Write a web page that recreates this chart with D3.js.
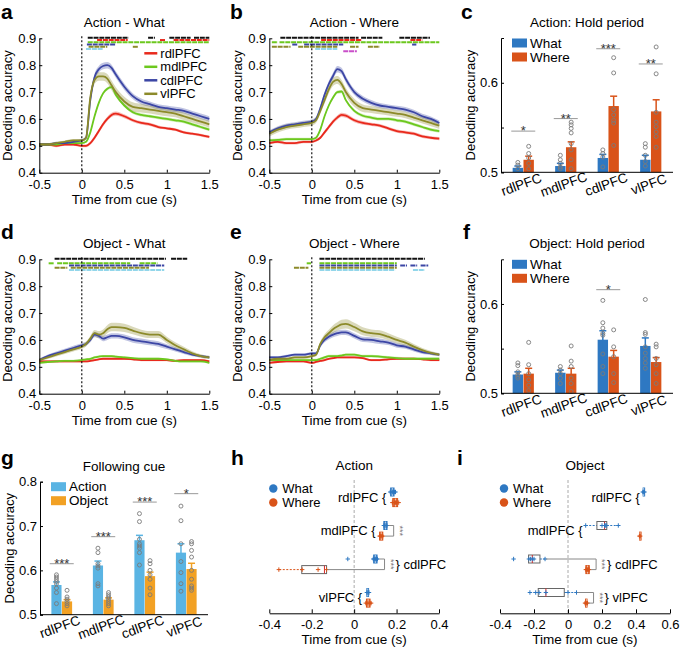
<!DOCTYPE html>
<html>
<head>
<meta charset="utf-8">
<script src="https://cdn.jsdelivr.net/npm/d3@7"></script>
<style>
  body { margin: 0; background: #fff; }
</style>
</head>
<body>
<svg id="fig" width="680" height="647"></svg>
<script>
'use strict'

// ---------- shared categories / ticks ----------
var regions = ['rdlPFC', 'mdlPFC', 'cdlPFC', 'vlPFC']
var regionColors = ['#e8291c', '#6cc81e', '#3c46a5', '#8c8a2a']
var timeTicks = [-0.5, 0, 0.5, 1, 1.5]
var accTicks = [0.4, 0.5, 0.6, 0.7, 0.8, 0.9]
var holdTicks = [0.5, 0.55, 0.6]
var cueTicks = [0.5, 0.6, 0.7, 0.8]
var latTicksH = [-0.4, -0.2, 0, 0.2, 0.4]
var latTicksI = [-0.4, -0.2, 0, 0.2, 0.4, 0.6]

// time bins (s from cue) of the decoding curves
var T = [-0.5, -0.4, -0.3, -0.2, -0.1, 0, 0.05, 0.1, 0.15, 0.2, 0.25, 0.3, 0.35, 0.4, 0.5, 0.6, 0.7, 0.8, 0.9, 1.0, 1.1, 1.2, 1.3, 1.4, 1.5]

// ---------- a: Action - What ----------
var aRd = [0.505,0.505,0.500,0.505,0.505,0.500,0.500,0.510,0.530,0.555,0.580,0.600,0.615,0.620,0.610,0.595,0.585,0.580,0.570,0.565,0.560,0.550,0.545,0.540,0.533]
var aMd = [0.505,0.505,0.505,0.510,0.510,0.510,0.515,0.550,0.610,0.660,0.695,0.712,0.718,0.690,0.650,0.625,0.615,0.610,0.605,0.600,0.595,0.590,0.580,0.570,0.560]
var aCd = [0.505,0.505,0.510,0.510,0.515,0.520,0.530,0.670,0.755,0.785,0.797,0.800,0.790,0.765,0.720,0.685,0.665,0.655,0.645,0.640,0.635,0.630,0.620,0.610,0.600]
var aVl = [0.505,0.505,0.510,0.515,0.520,0.520,0.530,0.680,0.745,0.758,0.758,0.750,0.725,0.700,0.665,0.645,0.640,0.635,0.630,0.625,0.620,0.610,0.600,0.590,0.580]
var aRdSe = [.005,.005,.005,.005,.005,.005,.005,.006,.007,.008,.008,.008,.008,.008,.007,.006,.006,.006,.006,.005,.005,.005,.005,.005,.005]
var aMdSe = [.004,.004,.004,.004,.004,.004,.004,.005,.006,.006,.006,.006,.006,.006,.006,.006,.006,.006,.006,.006,.006,.006,.006,.006,.006]
var aCdSe = [.005,.005,.005,.005,.005,.005,.006,.010,.012,.012,.012,.012,.012,.012,.012,.011,.011,.010,.010,.010,.010,.010,.010,.010,.010]
var aVlSe = [.005,.005,.005,.005,.005,.005,.006,.012,.015,.016,.016,.017,.018,.018,.018,.017,.016,.015,.015,.015,.014,.014,.013,.013,.013]

// ---------- b: Action - Where ----------
var bRd = [0.510,0.515,0.510,0.510,0.515,0.515,0.520,0.530,0.550,0.570,0.590,0.605,0.615,0.612,0.595,0.585,0.580,0.575,0.565,0.555,0.550,0.545,0.535,0.530,0.527]
var bMd = [0.520,0.522,0.525,0.525,0.525,0.525,0.530,0.560,0.610,0.650,0.680,0.700,0.702,0.670,0.630,0.612,0.605,0.600,0.600,0.595,0.590,0.580,0.570,0.560,0.555]
var bCd = [0.550,0.565,0.575,0.580,0.585,0.590,0.600,0.640,0.690,0.730,0.760,0.785,0.778,0.748,0.700,0.675,0.660,0.650,0.645,0.640,0.635,0.625,0.610,0.600,0.585]
var bVl = [0.545,0.560,0.570,0.575,0.580,0.585,0.595,0.630,0.670,0.710,0.738,0.745,0.730,0.700,0.660,0.640,0.635,0.630,0.625,0.620,0.615,0.605,0.595,0.585,0.575]
var bRdSe = [.005,.005,.005,.005,.005,.005,.005,.006,.007,.007,.008,.008,.008,.008,.007,.007,.006,.006,.006,.006,.006,.006,.006,.006,.006]
var bMdSe = [.005,.005,.005,.005,.005,.005,.005,.005,.006,.006,.006,.006,.006,.006,.006,.006,.006,.006,.006,.006,.006,.006,.006,.006,.006]
var bCdSe = [.008,.008,.008,.008,.008,.008,.008,.009,.010,.011,.012,.012,.012,.012,.011,.010,.010,.009,.009,.009,.009,.009,.009,.009,.009]
var bVlSe = [.010,.010,.010,.010,.010,.010,.010,.011,.013,.014,.015,.015,.015,.015,.015,.014,.013,.013,.012,.012,.012,.012,.012,.012,.012]

// ---------- d: Object - What ----------
var dRd = [0.520,0.520,0.520,0.520,0.520,0.520,0.520,0.522,0.525,0.528,0.530,0.530,0.530,0.530,0.530,0.528,0.525,0.525,0.525,0.525,0.522,0.525,0.525,0.525,0.520]
var dMd = [0.515,0.518,0.520,0.522,0.522,0.525,0.528,0.530,0.535,0.538,0.540,0.540,0.540,0.538,0.535,0.532,0.530,0.530,0.530,0.528,0.522,0.520,0.520,0.520,0.515]
var dCd = [0.525,0.540,0.550,0.560,0.570,0.580,0.585,0.600,0.620,0.615,0.605,0.610,0.615,0.615,0.610,0.600,0.595,0.590,0.585,0.575,0.565,0.555,0.545,0.540,0.535]
var dVl = [0.525,0.535,0.545,0.555,0.565,0.575,0.585,0.605,0.625,0.620,0.625,0.640,0.648,0.648,0.645,0.635,0.625,0.620,0.620,0.600,0.580,0.565,0.550,0.540,0.535]
var dRdSe = [.004,.004,.004,.004,.004,.004,.004,.004,.004,.004,.004,.004,.004,.004,.004,.004,.004,.004,.004,.004,.004,.004,.004,.004,.004]
var dMdSe = [.004,.004,.004,.004,.004,.004,.004,.004,.004,.004,.004,.004,.004,.004,.004,.004,.004,.004,.004,.004,.004,.004,.004,.004,.004]
var dCdSe = [.006,.006,.007,.007,.008,.008,.008,.009,.010,.010,.010,.010,.010,.010,.010,.010,.010,.010,.010,.009,.008,.007,.006,.005,.005]
var dVlSe = [.006,.006,.007,.007,.008,.008,.009,.010,.012,.013,.014,.015,.016,.016,.015,.014,.013,.013,.013,.012,.011,.010,.008,.007,.006]

// ---------- e: Object - Where ----------
var eRd = [0.515,0.518,0.520,0.520,0.520,0.515,0.518,0.522,0.525,0.530,0.532,0.535,0.535,0.535,0.535,0.532,0.525,0.525,0.528,0.530,0.530,0.530,0.528,0.525,0.525]
var eMd = [0.525,0.525,0.525,0.525,0.525,0.525,0.525,0.530,0.535,0.540,0.540,0.540,0.542,0.545,0.545,0.540,0.540,0.538,0.535,0.532,0.530,0.530,0.530,0.530,0.530]
var eCd = [0.535,0.535,0.540,0.545,0.545,0.550,0.550,0.580,0.600,0.612,0.620,0.625,0.628,0.628,0.615,0.602,0.600,0.595,0.590,0.580,0.575,0.565,0.555,0.550,0.545]
var eVl = [0.525,0.530,0.530,0.535,0.535,0.540,0.545,0.585,0.610,0.625,0.640,0.650,0.658,0.660,0.648,0.632,0.625,0.622,0.612,0.600,0.590,0.575,0.562,0.552,0.545]
var eRdSe = [.004,.004,.004,.004,.004,.004,.004,.004,.004,.004,.004,.004,.004,.004,.004,.004,.004,.004,.004,.004,.004,.004,.004,.004,.004]
var eMdSe = [.005,.005,.005,.005,.005,.005,.005,.005,.005,.005,.005,.005,.005,.005,.005,.005,.005,.005,.005,.005,.005,.005,.005,.005,.005]
var eCdSe = [.005,.005,.005,.005,.005,.005,.006,.008,.009,.010,.010,.010,.010,.010,.010,.010,.010,.010,.009,.009,.008,.008,.007,.006,.005]
var eVlSe = [.005,.005,.005,.005,.005,.005,.006,.009,.011,.013,.015,.016,.017,.017,.016,.015,.014,.014,.013,.012,.011,.010,.008,.007,.006]

// significance rows above the curves: [row, start, end]
var sigRows = ['k', 'r', 'g', 'b', 'o', 'c', 'm']
var sigColors = ['#111111', '#e8291c', '#6cc81e', '#3c46a5', '#8c8a2a', '#92d6ea', '#c94fc9']
var aSig = [['k',0.07,0.55],['k',0.78,0.86],['k',1.03,1.28],['k',1.32,1.5],
  ['r',0.18,0.54],['r',0.92,0.98],['r',1.08,1.5],
  ['g',0.07,1.5],['b',0.06,0.40],['o',0.08,0.30],['o',0.60,0.66],['c',0.05,0.25]]
var bSig = [['k',-0.37,0.55],['k',0.58,0.83],['k',1.03,1.39],
  ['r',0.11,0.59],['r',1.16,1.30],
  ['g',-0.47,-0.40],['g',-0.38,1.5],
  ['b',-0.23,-0.17],['b',-0.09,0.37],['b',1.18,1.23],
  ['o',-0.47,-0.25],['o',-0.16,0.30],['o',0.45,0.55],['o',0.66,0.80],
  ['c',0.04,0.30],['m',0.37,0.53]]
var dSig = [['k',-0.32,0.99],['k',1.05,1.24],
  ['g',-0.39,-0.33],['g',-0.29,0.57],['g',0.68,0.89],
  ['b',-0.15,0.97],['o',-0.32,-0.17],['o',-0.13,0.79],['c',-0.15,0.97]]
var eSig = [['k',0.09,1.33],
  ['g',-0.06,-0.01],['g',0.09,1.0],
  ['b',0.09,1.0],['b',1.04,1.12],['b',1.16,1.24],['b',1.28,1.37],
  ['o',-0.21,-0.04],['o',0.09,1.0],
  ['c',0.09,0.98],['c',1.19,1.33]]

// ---------- c / f: hold period bars ----------
var holdConds = ['What', 'Where']
var holdColors = ['#2e78c2', '#d95319']
var cWhat = [0.505, 0.507, 0.516, 0.514]
var cWhatSe = [0.002, 0.003, 0.004, 0.005]
var cWhere = [0.514, 0.528, 0.574, 0.568]
var cWhereSe = [0.004, 0.006, 0.011, 0.013]
var cWhatDots = [[0.511,0.508,0.504],[0.519,0.514,0.510,0.506,0.504],[0.525,0.521,0.517,0.506],[0.532,0.528,0.519,0.512,0.507]]
var cWhereDots = [[0.529,0.521,0.516,0.510,0.504],[0.556,0.553,0.549,0.544,0.532,0.525,0.514,0.504],
  [0.628,0.611,0.570,0.564,0.558,0.555,0.530],[0.640,0.610,0.567,0.556,0.551,0.545,0.540,0.528]]
var cStars = ['*', '**', '***', '**']
var cStarAt = [0.546, 0.560, 0.638, 0.621]

var fWhat = [0.521, 0.523, 0.560, 0.553]
var fWhatSe = [0.003, 0.003, 0.010, 0.009]
var fWhere = [0.522, 0.522, 0.541, 0.535]
var fWhereSe = [0.006, 0.006, 0.007, 0.005]
var fWhatDots = [[0.534,0.531,0.524,0.521,0.519,0.517],[0.530,0.526,0.522,0.517,0.511],
  [0.604,0.579,0.573,0.567,0.565,0.544,0.530,0.522],[0.605,0.568,0.566,0.552,0.545,0.539,0.534,0.528]]
var fWhereDots = [[0.557,0.532,0.522,0.515,0.509,0.503],[0.553,0.536,0.530,0.517,0.511,0.502],
  [0.571,0.552,0.541,0.522,0.512],[0.555,0.552,0.539,0.532,0.522,0.511]]
var fStars = ['', '', '*', '']
var fStarAt = [0, 0, 0.616, 0]

// ---------- g: following cue ----------
var cueConds = ['Action', 'Object']
var cueColors = ['#5ab4e3', '#f2a124']
var gAction = [0.567, 0.611, 0.668, 0.640]
var gActionSe = [0.007, 0.010, 0.011, 0.020]
var gObject = [0.530, 0.534, 0.587, 0.603]
var gObjectSe = [0.004, 0.004, 0.009, 0.013]
var gActionDots = [[0.59,0.585,0.58,0.575,0.57,0.56,0.55,0.525],[0.65,0.64,0.615,0.61,0.605,0.57,0.565],
  [0.728,0.71,0.67,0.66,0.655,0.65,0.64,0.612],[0.745,0.712,0.66,0.62,0.595,0.57,0.553]]
var gObjectDots = [[0.555,0.54,0.535,0.53,0.525,0.52],[0.55,0.545,0.54,0.535,0.53,0.525,0.52],
  [0.622,0.615,0.6,0.59,0.58,0.56,0.545],[0.665,0.66,0.645,0.63,0.6,0.58,0.565,0.56,0.555]]
var gStars = ['***', '***', '***', '*']
var gStarAt = [0.615, 0.676, 0.754, 0.773]

// ---------- h / i: latency boxes [low whisker, q1, median, q3, high whisker] ----------
var hWhat = [[0.166,0.172,0.180,0.188,0.195],[0.135,0.140,0.148,0.155,0.158],[0.086,0.092,0.100,0.108,0.115],[0.057,0.060,0.064,0.068,0.072]]
var hWhere = [[0.175,0.182,0.195,0.205,0.213],[0.115,0.120,0.128,0.135,0.140],[-0.353,-0.247,-0.140,-0.130,-0.130],[0.052,0.058,0.066,0.075,0.083]]
var hWhatPts = [[0.17,0.18,0.185,0.19,0.195],[0.14,0.145,0.15,0.155],[-0.03,0.09,0.095,0.10,0.105,0.11],[0.06,0.065,0.07]]
var hWherePts = [[0.18,0.19,0.195,0.2,0.21],[0.12,0.125,0.13,0.135],[-0.355,-0.245,-0.17,-0.13],[0.055,0.065,0.075,0.08]]
var hStars = ['', '***', '***', '']
var hLabelSide = ['left', 'left', 'right', 'left']

var iWhat = [[0.440,0.442,0.445,0.448,0.450],[0.104,0.170,0.215,0.228,0.296],[-0.235,-0.232,-0.210,-0.165,-0.135],[-0.224,-0.175,-0.130,-0.022,0.050]]
var iWhere = [null,[0.420,0.421,0.424,0.427,0.428],[0.100,0.105,0.115,0.125,0.130],[0.100,0.103,0.108,0.112,0.115]]
var iWhatPts = [[0.44,0.445,0.45],[0.104,0.2,0.215,0.22,0.228,0.296],[-0.32,-0.23,-0.22,-0.21,-0.2,-0.135],[-0.224,-0.19,-0.17,-0.13,0.0,0.05]]
var iWherePts = [[],[0.42,0.425],[0.105,0.11,0.115,0.12,0.125],[0.1,0.105,0.11,0.115]]
var iStars = ['', '', '***', '***']
var iLabelSide = ['left', 'left', 'right', 'right']

// ====================================================================
var FONT = '"Liberation Sans", Arial, Helvetica, sans-serif'
var svg = d3.select('#fig').attr('font-family', FONT)

function styleAxis(sel) {
  sel.attr('font-family', FONT).attr('font-size', 13)
  sel.selectAll('path.domain').attr('stroke', '#000').attr('stroke-width', 1)
  sel.selectAll('.tick line').attr('stroke', '#000')
  sel.selectAll('.tick text').attr('fill', '#000')
}

function letter(ch, x, y) {
  svg.append('text').attr('x', x).attr('y', y).attr('font-size', 21)
    .attr('font-weight', 'bold').text(ch)
}

function yLabel(g, x, y) {
  g.append('text').attr('transform', 'translate(' + x + ',' + y + ') rotate(-90)')
    .attr('text-anchor', 'middle').attr('dy', '0.35em').attr('font-size', 13)
    .text('Decoding accuracy')
}

function timePanel(p) {
  var g = svg.append('g')
  var x = d3.scaleLinear().domain([-0.5, 1.5]).range([p.left, p.left + 170])
  var y = d3.scaleLinear().domain([0.4, 0.9]).range([p.top + 134.4, p.top])
  var rowY = d3.scalePoint().domain(sigRows).range([y(0.9) - 0.5, y(0.9) + 13])

  p.series.forEach(function (s, k) {
    var band = d3.area()
      .x(function (d, i) { return x(T[i]) })
      .y0(function (d, i) { return y(d - s.se[i]) })
      .y1(function (d, i) { return y(d + s.se[i]) })
      .curve(d3.curveMonotoneX)
    g.append('path').datum(s.mean).attr('d', band)
      .attr('fill', regionColors[k]).attr('fill-opacity', 0.32)
  })
  p.series.forEach(function (s, k) {
    var line = d3.line()
      .x(function (d, i) { return x(T[i]) })
      .y(function (d) { return y(d) })
      .curve(d3.curveMonotoneX)
    g.append('path').datum(s.mean).attr('d', line).attr('fill', 'none')
      .attr('stroke', regionColors[k]).attr('stroke-width', 1.8)
  })

  g.selectAll('line.sig').data(p.sig).join('line').attr('class', 'sig')
    .attr('x1', function (d) { return x(d[1]) })
    .attr('x2', function (d) { return x(d[2]) })
    .attr('y1', function (d) { return rowY(d[0]) })
    .attr('y2', function (d) { return rowY(d[0]) })
    .attr('stroke', function (d) { return sigColors[sigRows.indexOf(d[0])] })
    .attr('stroke-width', 2).attr('stroke-dasharray', '5,0.8')

  g.append('line').attr('x1', x(0)).attr('x2', x(0))
    .attr('y1', y(0.9) - 2).attr('y2', y(0.4))
    .attr('stroke', '#000').attr('stroke-width', 1.1).attr('stroke-dasharray', '2,2')

  g.append('g').attr('transform', 'translate(0,' + y(0.4) + ')')
    .call(d3.axisBottom(x).tickValues(timeTicks).tickFormat(function (d) { return String(d) })
      .tickSize(-3).tickSizeOuter(0).tickPadding(7))
    .call(styleAxis)
  g.append('g').attr('transform', 'translate(' + p.left + ',0)')
    .call(d3.axisLeft(y).tickValues(accTicks).tickFormat(d3.format('.1f'))
      .tickSize(-3).tickSizeOuter(0).tickPadding(3))
    .call(styleAxis)

  g.append('text').attr('x', p.left + 85).attr('y', p.top - 11)
    .attr('text-anchor', 'middle').attr('font-size', 13.5).text(p.title)
  g.append('text').attr('x', p.left + 85).attr('y', y(0.4) + 31)
    .attr('text-anchor', 'middle').attr('font-size', 13.5).text('Time from cue (s)')
  yLabel(g, p.left - 32, (y(0.4) + y(0.9)) / 2)

  if (p.legend) {
    regions.forEach(function (r, k) {
      var ly = p.top + 15 + k * 13.5
      g.append('line').attr('x1', p.left + 105).attr('x2', p.left + 118)
        .attr('y1', ly).attr('y2', ly).attr('stroke', regionColors[k]).attr('stroke-width', 2.5)
      g.append('text').attr('x', p.left + 121).attr('y', ly).attr('dy', '0.35em')
        .attr('font-size', 13).text(r)
    })
  }
}

function barPanel(p) {
  var g = svg.append('g')
  var x0 = d3.scaleBand().domain(regions).range([p.left, p.right])
    .paddingInner(0.48).paddingOuter(0.264)
  var x1 = d3.scaleBand().domain(p.conds).range([0, x0.bandwidth()]).padding(0.04)
  var y = d3.scaleLinear().domain(p.domain).range([p.bottom, p.top])

  regions.forEach(function (r, k) {
    p.conds.forEach(function (c, j) {
      var v = p.values[j][k], se = p.errors[j][k]
      var bx = x0(r) + x1(c), bw = x1.bandwidth(), cx = bx + bw / 2
      g.append('rect').attr('x', bx).attr('width', bw)
        .attr('y', y(v)).attr('height', y(p.domain[0]) - y(v)).attr('fill', p.colors[j])
      g.append('line').attr('x1', cx).attr('x2', cx).attr('y1', y(v - se)).attr('y2', y(v + se))
        .attr('stroke', p.colors[j]).attr('stroke-width', 1.5)
      g.append('line').attr('x1', cx - 3.5).attr('x2', cx + 3.5).attr('y1', y(v + se)).attr('y2', y(v + se))
        .attr('stroke', p.colors[j]).attr('stroke-width', 1.5)
      g.selectAll(null).data(p.dots[j][k]).join('circle')
        .attr('cx', cx).attr('cy', function (d) { return y(d) }).attr('r', 2)
        .attr('fill', 'none').attr('stroke', '#7a7a7a').attr('stroke-width', 0.9)
    })
    if (p.stars[k]) {
      var gc = x0(r) + x0.bandwidth() / 2, sy = y(p.starAt[k])
      g.append('line').attr('x1', gc - 12).attr('x2', gc + 12).attr('y1', sy).attr('y2', sy)
        .attr('stroke', '#999').attr('stroke-width', 1)
      g.append('text').attr('x', gc).attr('y', sy + 4).attr('text-anchor', 'middle')
        .attr('font-size', 13).attr('fill', '#333').text(p.stars[k])
    }
    g.append('text')
      .attr('transform', 'translate(' + (x0(r) + x0.bandwidth() / 2 - 2) + ',' + (p.bottom + 12) + ') rotate(-20)')
      .attr('text-anchor', 'middle').attr('dy', '0.35em').attr('font-size', 13.5).text(r)
  })

  g.append('line').attr('x1', p.left).attr('x2', p.right).attr('y1', p.bottom).attr('y2', p.bottom)
    .attr('stroke', '#000')
  g.append('g').attr('transform', 'translate(' + p.left + ',0)')
    .call(d3.axisLeft(y).tickValues(p.ticks)
      .tickFormat(function (d) { return p.labelled.indexOf(d) >= 0 ? d3.format('.1f')(d) : '' })
      .tickSize(-3).tickSizeOuter(-3).tickPadding(3))
    .call(styleAxis)

  g.append('text').attr('x', (p.left + p.right) / 2).attr('y', p.top - 11)
    .attr('text-anchor', 'middle').attr('font-size', 13.5).text(p.title)
  yLabel(g, p.left - 31, (p.top + p.bottom) / 2)

  p.conds.forEach(function (c, j) {
    var ly = p.top + 5 + j * 14
    g.append('rect').attr('x', p.left + 11).attr('y', ly - 4.5).attr('width', 15).attr('height', 9)
      .attr('fill', p.colors[j])
    g.append('text').attr('x', p.left + 29).attr('y', ly).attr('dy', '0.35em')
      .attr('font-size', 13.5).text(c)
  })
}

var whatColor = '#2e78c2', whereColor = '#d95319'

function boxPanel(p) {
  var g = svg.append('g')
  var x = d3.scaleLinear().domain(p.domain).range([p.left, p.right])
  var yr = d3.scalePoint().domain(regions).range([497.3, 597.8])
  var axisY = 613.3
  var conds = [
    { box: p.what, pts: p.whatPts, color: whatColor, dy: -5.3 },
    { box: p.where, pts: p.wherePts, color: whereColor, dy: 5.3 }
  ]

  g.append('line').attr('x1', x(0)).attr('x2', x(0)).attr('y1', 480).attr('y2', axisY)
    .attr('stroke', '#aaa').attr('stroke-dasharray', '3,2')

  regions.forEach(function (r, k) {
    conds.forEach(function (c) {
      var b = c.box[k]
      if (!b) return
      var cy = yr(r) + c.dy
      g.append('line').attr('x1', x(b[0])).attr('x2', x(b[1])).attr('y1', cy).attr('y2', cy)
        .attr('stroke', c.color).attr('stroke-dasharray', '2,1.5')
      g.append('line').attr('x1', x(b[3])).attr('x2', x(b[4])).attr('y1', cy).attr('y2', cy)
        .attr('stroke', c.color).attr('stroke-dasharray', '2,1.5')
      var tiny = x(b[3]) - x(b[1]) < 7
      g.append('rect').attr('x', x(b[1])).attr('width', Math.max(1.5, x(b[3]) - x(b[1])))
        .attr('y', cy - 4).attr('height', 8)
        .attr('fill', tiny ? c.color : 'none').attr('fill-opacity', 0.85)
        .attr('stroke', tiny ? c.color : '#666').attr('stroke-width', 1)
      g.append('line').attr('x1', x(b[2])).attr('x2', x(b[2])).attr('y1', cy - 4).attr('y2', cy + 4)
        .attr('stroke', tiny ? '#fff' : '#d62728').attr('stroke-width', tiny ? 0.6 : 1)
      g.selectAll(null).data(c.pts[k]).join('path')
        .attr('transform', function (d) { return 'translate(' + x(d) + ',' + cy + ')' })
        .attr('d', 'M-2.2,0H2.2M0,-2.2V2.2').attr('stroke', c.color).attr('stroke-width', 1)
    })

    var rows = conds.filter(function (c) { return c.box[k] })
    var lo = d3.min(rows, function (c) { return c.box[k][0] })
    var hi = d3.max(rows, function (c) { return c.box[k][4] })
    var bx = x(hi) + 6
    if (p.stars[k]) {
      var yA = yr(r) + conds[0].dy, yB = yr(r) + conds[1].dy
      g.append('path')
        .attr('d', 'M' + (x(conds[0].box[k][4]) + 1) + ',' + yA + 'H' + bx + 'V' + yB + 'H' + (x(conds[1].box[k][4]) + 1))
        .attr('fill', 'none').attr('stroke', '#888').attr('stroke-width', 1)
      g.append('text').attr('transform', 'translate(' + (bx + 3) + ',' + yr(r) + ') rotate(90)')
        .attr('text-anchor', 'middle').attr('font-size', 9).attr('fill', '#777').text(p.stars[k])
    }
    if (p.labelSide[k] === 'left') {
      g.append('text').attr('x', x(lo) - 3).attr('y', yr(r)).attr('dy', '0.35em')
        .attr('text-anchor', 'end').attr('font-size', 13).text(r + ' {')
    } else {
      g.append('text').attr('x', bx + 11).attr('y', yr(r)).attr('dy', '0.35em')
        .attr('font-size', 13).text('} ' + r)
    }
  })

  g.append('g').attr('transform', 'translate(0,' + axisY + ')')
    .call(d3.axisBottom(x).tickValues(p.ticks).tickFormat(function (d) { return String(d) })
      .tickSize(-4).tickSizeOuter(0).tickPadding(6))
    .call(styleAxis)
  g.append('text').attr('x', (p.left + p.right) / 2).attr('y', axisY + 31)
    .attr('text-anchor', 'middle').attr('font-size', 13.5).text('Time from cue (s)')
  g.append('text').attr('x', (p.left + p.right) / 2).attr('y', 470)
    .attr('text-anchor', 'middle').attr('font-size', 13.5).text(p.title)

  ;[['What', whatColor], ['Where', whereColor]].forEach(function (d, j) {
    var ly = 488.5 + j * 14
    g.append('circle').attr('cx', p.left + 4).attr('cy', ly).attr('r', 4.2).attr('fill', d[1])
    g.append('text').attr('x', p.left + 13).attr('y', ly).attr('dy', '0.35em')
      .attr('font-size', 13).text(d[0])
  })
}

// ---------- draw ----------
function series(m, s) { return m.map(function (v, i) { return { mean: v, se: s[i] } }) }

timePanel({ left: 39.3, top: 38.3, title: 'Action - What', legend: true, sig: aSig,
  series: series([aRd, aMd, aCd, aVl], [aRdSe, aMdSe, aCdSe, aVlSe]) })
timePanel({ left: 269.3, top: 38.3, title: 'Action - Where', sig: bSig,
  series: series([bRd, bMd, bCd, bVl], [bRdSe, bMdSe, bCdSe, bVlSe]) })
timePanel({ left: 39.3, top: 259.3, title: 'Object - What', sig: dSig,
  series: series([dRd, dMd, dCd, dVl], [dRdSe, dMdSe, dCdSe, dVlSe]) })
timePanel({ left: 269.3, top: 259.3, title: 'Object - Where', sig: eSig,
  series: series([eRd, eMd, eCd, eVl], [eRdSe, eMdSe, eCdSe, eVlSe]) })

barPanel({ left: 501, right: 673, top: 38, bottom: 172.3, domain: [0.5, 0.65],
  ticks: holdTicks, labelled: [0.5, 0.6], title: 'Action: Hold period',
  conds: holdConds, colors: holdColors, values: [cWhat, cWhere], errors: [cWhatSe, cWhereSe],
  dots: [cWhatDots, cWhereDots], stars: cStars, starAt: cStarAt })
barPanel({ left: 501, right: 673, top: 259.3, bottom: 393.3, domain: [0.5, 0.65],
  ticks: holdTicks, labelled: [0.5, 0.6], title: 'Object: Hold period',
  conds: holdConds, colors: holdColors, values: [fWhat, fWhere], errors: [fWhatSe, fWhereSe],
  dots: [fWhatDots, fWhereDots], stars: fStars, starAt: fStarAt })
barPanel({ left: 40, right: 208, top: 481.7, bottom: 614.7, domain: [0.5, 0.8],
  ticks: cueTicks, labelled: cueTicks, title: 'Following cue',
  conds: cueConds, colors: cueColors, values: [gAction, gObject], errors: [gActionSe, gObjectSe],
  dots: [gActionDots, gObjectDots], stars: gStars, starAt: gStarAt })

boxPanel({ left: 269.3, right: 439, domain: [-0.4, 0.4], ticks: latTicksH, title: 'Action',
  what: hWhat, where: hWhere, whatPts: hWhatPts, wherePts: hWherePts, stars: hStars, labelSide: hLabelSide })
boxPanel({ left: 500, right: 670, domain: [-0.4, 0.6], ticks: latTicksI, title: 'Object',
  what: iWhat, where: iWhere, whatPts: iWhatPts, wherePts: iWherePts, stars: iStars, labelSide: iLabelSide })

letter('a', 1, 19); letter('b', 230, 19); letter('c', 461, 19)
letter('d', 1, 239); letter('e', 230, 239); letter('f', 463, 239)
letter('g', 1, 465); letter('h', 231, 465); letter('i', 457, 465)
</script>
</body>
</html>
